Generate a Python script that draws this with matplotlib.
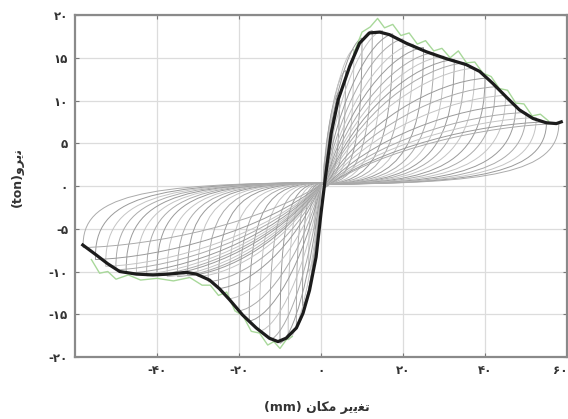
"""
Hysteresis loops (force vs displacement) with backbone curve
"""

import matplotlib
matplotlib.use("Agg")
import matplotlib.pyplot as plt
from matplotlib.path import Path
from matplotlib.patches import PathPatch

# backbone curve (black), mm / ton
bb_x = [-58.1, -55.0, -52.0, -49.1, -45.1, -41.0, -37.0, -32.9, -30.4, -27.2,
        -24.8, -22.3, -19.1, -15.8, -12.6, -10.5, -8.5, -6.0, -4.4, -2.8,
        -1.2, 0.0, 1.2, 2.5, 4.2, 7.0, 9.4, 11.8, 14.3, 16.7,
        20.8, 25.7, 30.5, 35.4, 38.7, 41.9, 45.2, 48.4, 51.7, 54.9, 57.4, 58.6]
bb_y = [-6.9, -8.0, -9.1, -10.0, -10.3, -10.4, -10.3, -10.1, -10.3, -11.0,
        -12.0, -13.3, -15.1, -16.6, -17.8, -18.2, -17.8, -16.6, -14.9, -12.2,
        -8.3, -3.2, 1.5, 6.2, 10.1, 14.0, 16.7, 17.9, 18.0, 17.7,
        16.7, 15.7, 14.9, 14.2, 13.4, 12.0, 10.4, 8.9, 7.9, 7.4, 7.3, 7.5]

# peaks of each cycle (gray loops)
pos_d = [1.5, 3, 4.5, 6, 8, 10, 12.5, 15, 17.5, 20, 22.5, 25, 27.5, 30,
         32.5, 35, 37.5, 40, 42.5, 45, 47.5, 50, 52.5, 55, 58]
pos_f = [4, 8, 11, 13.5, 16, 17.3, 18.2, 18.2, 17.8, 17.2, 16.6, 16.2, 15.6,
         15.2, 14.8, 14.4, 13.8, 12.6, 11.6, 10.6, 9.5, 8.6, 8.0, 7.5, 7.3]
neg_d = [-1.5, -3, -4.5, -6, -8, -10, -12.5, -15, -17.5, -20, -22.5, -25,
         -27.5, -30, -32.5, -35, -37.5, -40, -42.5, -45, -47.5, -50, -52.5,
         -55, -58]
neg_f = [-5, -10, -14, -16.5, -18, -18.4, -18, -17, -15.8, -14.6, -13.2,
         -12, -11.2, -10.6, -10.5, -10.6, -10.6, -10.5, -10.5, -10.4, -10.2,
         -9.8, -9.4, -8.6, -7.2]

# measured peaks (green)
exp_pos_d = [8, 10, 12, 13.8, 15.5, 17.5, 19.5, 21.5, 23.5, 25.5, 27.5, 29.5,
             31.5, 33.5, 35.5, 37.5, 39.5, 41.5, 43.5, 45.5, 47.5, 49.5, 51.5,
             53.5, 55.5]
exp_pos_f = [15.5, 18.0, 18.6, 19.6, 18.5, 18.9, 17.6, 17.9, 16.6, 17.0, 15.8,
             16.1, 15.0, 15.8, 14.4, 14.5, 13.2, 12.8, 11.4, 11.2, 9.7, 9.6,
             8.2, 8.4, 7.6]
exp_neg_d = [-56, -54, -52, -50, -47, -44, -40, -36, -32, -29, -27, -25, -23,
             -21, -19, -17, -15, -13, -11.5, -10, -8.5, -7]
exp_neg_f = [-8.6, -10.2, -10.0, -10.9, -10.4, -11.0, -10.8, -11.1, -10.7,
             -11.6, -11.6, -12.8, -12.4, -14.6, -15.2, -17.0, -17.2, -18.6,
             -18.2, -19.0, -18.0, -17.6]

xticks = [-40, -20, 0, 20, 40, 60]
xtick_labels = ["-۴۰", "-۲۰", "۰", "۲۰", "۴۰", "۶۰"]
yticks = [-20, -15, -10, -5, 0, 5, 10, 15, 20]
ytick_labels = ["-۲۰", "-۱۵", "-۱۰", "-۵", "۰", "۵", "۱۰", "۱۵", "۲۰"]

# Persian labels in visual (presentation-form) order
ylabel = "(ton)\uFEED\uFEAE\uFBFE\uFEE7"
xlabel = "(mm) \uFEE5\uFE8E\uFB91\uFEE3 \uFEAE\uFBFE\uFBFE\uFED0\uFE97"

plt.rcParams['font.family'] = ['DejaVu Sans']

fig = plt.figure(figsize=(5.68, 4.19), dpi=100)
ax = fig.add_axes([75 / 568, 62 / 419, 492 / 568, 342 / 419])

grays = ['#ababab', '#c4c4c4', '#9a9a9a']
for i in range(len(pos_d)):
    dp, fp = pos_d[i], pos_f[i]
    dn, fn = neg_d[i], neg_f[i]
    verts = [(0.6, -0.3),
             (0.25 * dp, 0.6 * fp), (0.7 * dp, 0.97 * fp), (dp, fp),
             (1.0 * dp, 0.2 * fp), (0.7 * dp, 0.3), (0.0, 0.2),
             (0.25 * dn, 0.6 * fn), (0.7 * dn, 0.97 * fn), (dn, fn),
             (1.01 * dn, 0.15 * fn), (0.75 * dn, 0.3), (0.6, 0.4)]
    codes = [Path.MOVETO] + [Path.CURVE4] * 12
    ax.add_patch(PathPatch(Path(verts, codes), fill=False,
                           edgecolor=grays[i % 3], lw=0.7, zorder=2))

ax.plot(exp_pos_d, exp_pos_f, color='#a8d89a', lw=1.0, zorder=3)
ax.plot(exp_neg_d, exp_neg_f, color='#a8d89a', lw=1.0, zorder=3)
ax.plot(bb_x, bb_y, color='#1c1c1c', lw=2.3, zorder=4)

ax.set_xlim(-60, 60)
ax.set_ylim(-20, 20)
ax.set_xticks(xticks)
ax.set_xticklabels(xtick_labels)
ax.set_yticks(yticks)
ax.set_yticklabels(ytick_labels)
ax.grid(True, color='#dcdcdc', lw=0.9)
ax.set_axisbelow(True)
ax.tick_params(direction='in', length=3, width=0.8, color='#777777',
               top=True, right=True, labelsize=8.5, labelcolor='#333333', pad=5)
for lab in ax.get_xticklabels() + ax.get_yticklabels():
    lab.set_fontweight('bold')
ax.get_xticklabels()[-1].set_horizontalalignment('right')
for sp in ax.spines.values():
    sp.set_color('#8a8a8a')
    sp.set_linewidth(1.6)

ax.set_ylabel(ylabel, fontsize=9, fontweight='bold', color='#333333',
              va='center')
ax.yaxis.set_label_coords(-0.118, 0.526)
ax.set_xlabel(xlabel, fontsize=9, fontweight='bold', color='#333333',
              va='center')
ax.xaxis.set_label_coords(0.492, -0.149)

fig.savefig("out.png", dpi=100)
